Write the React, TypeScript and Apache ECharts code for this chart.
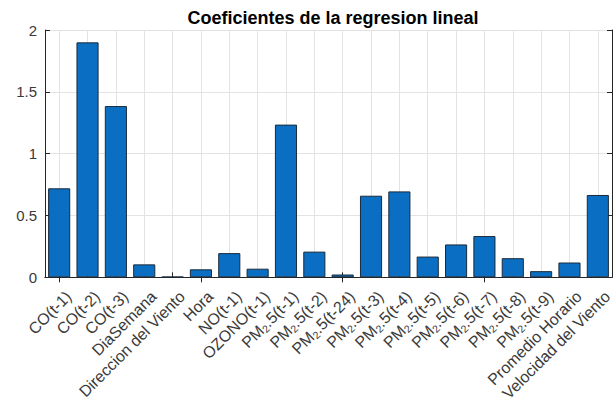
import React, { useEffect, useRef } from "react";
import * as echarts from "echarts";

const categories = [
  "CO(t-1)", "CO(t-2)", "CO(t-3)", "DiaSemana", "Direccion del Viento", "Hora",
  "NO(t-1)", "OZONO(t-1)", "PM2.5(t-1)", "PM2.5(t-2)", "PM2.5(t-24)", "PM2.5(t-3)",
  "PM2.5(t-4)", "PM2.5(t-5)", "PM2.5(t-6)", "PM2.5(t-7)", "PM2.5(t-8)", "PM2.5(t-9)",
  "Promedio Horario", "Velocidad del Viento",
];
const coefficients = [
  0.72, 1.9, 1.385, 0.105, 0.005, 0.065,
  0.196, 0.07, 1.235, 0.208, 0.023, 0.66,
  0.695, 0.168, 0.266, 0.334, 0.155, 0.05,
  0.12, 0.666,
];
const yTicks = { min: 0, max: 2, interval: 0.5 };
const titleText = "Coeficientes de la regresion lineal";

const FONT = "'Liberation Sans', Arial, Helvetica, sans-serif";
const AXIS_COLOR = "#262626";
const LABEL_COLOR = "#3a3a3a";

export default function App() {
  const ref = useRef<HTMLDivElement>(null);
  useEffect(() => {
    if (!ref.current) return;
    const chart = echarts.init(ref.current, undefined, { renderer: "svg" });
    const fmt = (v: string) =>
      v.startsWith("PM2") ? "{n|PM}{s|2}{n|" + v.slice(3) + "}" : "{n|" + v + "}";
    chart.setOption({
      animation: false,
      backgroundColor: "#ffffff",
      textStyle: { fontFamily: FONT },
      title: {
        text: titleText,
        left: 328,
        textAlign: "center",
        top: 4,
        textStyle: { fontSize: 18, fontWeight: "bold", color: "#000", fontFamily: FONT },
      },
      grid: { left: 45, right: 4, top: 30, bottom: 126, containLabel: false },
      xAxis: [
        {
          type: "category",
          data: categories,
          position: "bottom",
          axisLine: { show: true, lineStyle: { color: AXIS_COLOR, width: 1 } },
          axisTick: { show: true, inside: true, length: 5, alignWithLabel: true, lineStyle: { color: AXIS_COLOR } },
          splitLine: { show: true, alignWithLabel: true, lineStyle: { color: "#e3e3e3", width: 1 } } as any,
          axisLabel: {
            interval: 0,
            rotate: 45,
            margin: 7,
            align: "right",
            verticalAlign: "top",
            padding: [4, 0, 0, 0],
            formatter: fmt,
            rich: {
              n: { fontSize: 16, color: LABEL_COLOR, fontFamily: FONT, lineHeight: 19 },
              s: { fontSize: 10.5, color: LABEL_COLOR, fontFamily: FONT, lineHeight: 10, verticalAlign: "bottom" },
            },
          },
        },
        {
          type: "category",
          data: categories,
          position: "top",
          axisLine: { show: true, lineStyle: { color: AXIS_COLOR, width: 1 } },
          axisTick: { show: true, inside: true, length: 5, alignWithLabel: true, lineStyle: { color: AXIS_COLOR } },
          axisLabel: { show: false },
          splitLine: { show: false },
        },
      ],
      yAxis: [
        {
          type: "value",
          min: yTicks.min,
          max: yTicks.max,
          interval: yTicks.interval,
          position: "left",
          axisLine: { show: true, lineStyle: { color: AXIS_COLOR, width: 1 } },
          axisTick: { show: true, inside: true, length: 5, lineStyle: { color: AXIS_COLOR } },
          splitLine: { show: true, lineStyle: { color: "#e3e3e3", width: 1 } },
          axisLabel: { fontSize: 15, color: LABEL_COLOR, margin: 8, fontFamily: FONT },
        },
        {
          type: "value",
          min: yTicks.min,
          max: yTicks.max,
          interval: yTicks.interval,
          position: "right",
          axisLine: { show: true, lineStyle: { color: AXIS_COLOR, width: 1 } },
          axisTick: { show: true, inside: true, length: 5, lineStyle: { color: AXIS_COLOR } },
          splitLine: { show: false },
          axisLabel: { show: false },
        },
      ],
      series: [
        {
          type: "bar",
          data: coefficients,
          xAxisIndex: 0,
          yAxisIndex: 0,
          barWidth: "78%",
          itemStyle: { color: "#0a6fc2", borderColor: "#1a2a3a", borderWidth: 1 },
        },
      ],
    });
    return () => chart.dispose();
  }, []);
  return <div ref={ref} style={{ width: 616, height: 404, position: "absolute", left: 0, top: 0 }} />;
}
